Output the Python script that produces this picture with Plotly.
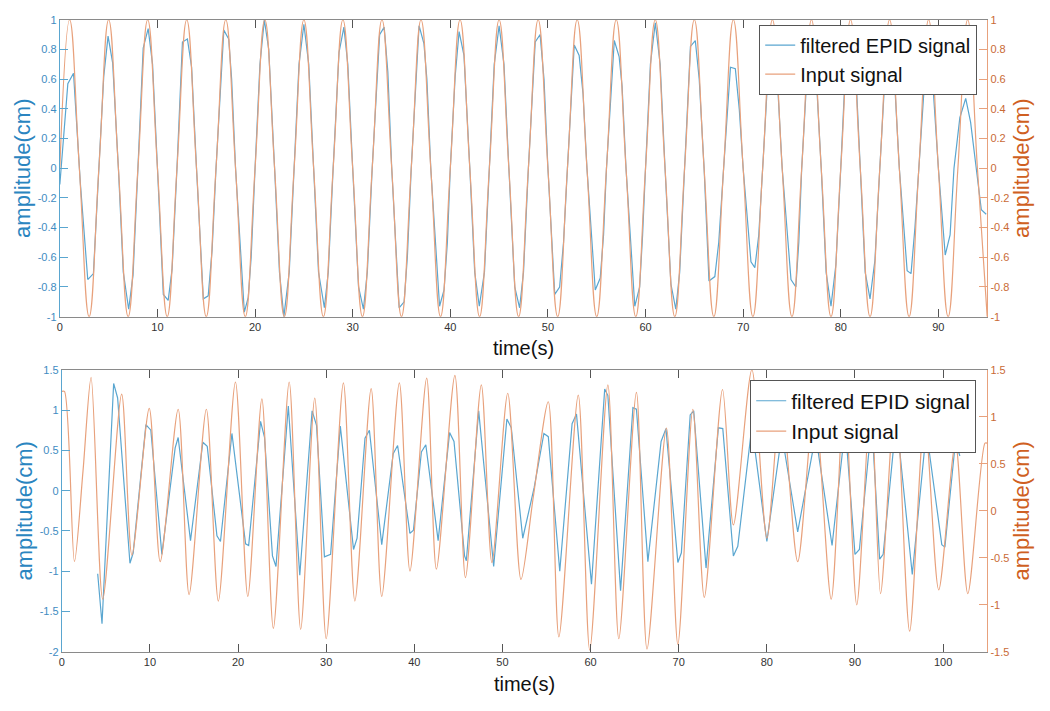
import plotly.graph_objects as go

# ---- top panel: sinusoidal input (period 4 s) and filtered EPID signal ----
top_input_t = [0, 1, 2, 3, 4, 5, 6, 7, 8, 9, 10, 11, 12, 13, 14, 15, 16, 17, 18, 19,
               20, 21, 22, 23, 24, 25, 26, 27, 28, 29, 30, 31, 32, 33, 34, 35, 36, 37, 38, 39,
               40, 41, 42, 43, 44, 45, 46, 47, 48, 49, 50, 51, 52, 53, 54, 55, 56, 57, 58, 59,
               60, 61, 62, 63, 64, 65, 66, 67, 68, 69, 70, 71, 72, 73, 74, 75, 76, 77, 78, 79,
               80, 81, 82, 83, 84, 85, 86, 87, 88, 89, 90, 91, 92, 93, 94, 95]
top_input = [0, 1, 0, -1, 0, 1, 0, -1, 0, 1, 0, -1, 0, 1, 0, -1, 0, 1, 0, -1,
             0, 1, 0, -1, 0, 1, 0, -1, 0, 1, 0, -1, 0, 1, 0, -1, 0, 1, 0, -1,
             0, 1, 0, -1, 0, 1, 0, -1, 0, 1, 0, -1, 0, 1, 0, -1, 0, 1, 0, -1,
             0, 1, 0, -1, 0, 1, 0, -1, 0, 1, 0, -1, 0, 1, 0, -1, 0, 1, 0, -1,
             0, 1, 0, -1, 0, 1, 0, -1, 0, 1, 0, -1, 0, 1, 0, -1]

top_epid_t = [0.0, 0.82, 1.4, 2.1, 2.86, 3.44, 4.0, 4.5, 4.94, 5.41, 6.0, 6.5, 7.05, 7.5,
              8.0, 8.54, 9.05, 9.5, 10.0, 10.6, 11.1, 11.5, 12.0, 12.56, 13.07, 13.5,
              14.0, 14.7, 15.2, 15.6, 16.0, 16.8, 17.3, 17.6, 18.0, 18.9, 19.3, 19.6,
              20.0, 20.5, 20.95, 21.4, 22.0, 22.5, 22.95, 23.5, 24.0, 24.5, 25.0, 25.5,
              26.0, 26.5, 27.1, 27.5, 28.0, 28.6, 29.1, 29.5, 30.0, 30.6, 31.1, 31.5,
              32.0, 32.76, 33.23, 33.6, 34.0, 34.76, 35.27, 35.6, 36.0, 36.8, 37.3, 37.6,
              38.0, 38.9, 39.36, 39.7, 40.0, 40.5, 40.9, 41.4, 42.0, 42.5, 42.97, 43.5,
              44.0, 44.5, 45.0, 45.5, 46.0, 46.6, 47.1, 47.5, 48.0, 48.7, 49.2, 49.6,
              50.0, 50.7, 51.2, 51.6, 52.0, 52.7, 53.2, 53.6, 54.0, 54.85, 55.36, 55.7,
              56.0, 56.8, 57.3, 57.6, 58.0, 58.9, 59.4, 59.7, 60.0, 60.5, 61.0, 61.5,
              62.0, 62.6, 63.1, 63.5, 64.0, 64.6, 65.1, 65.5, 66.0, 66.5, 67.1, 67.5,
              68.0, 68.7, 69.2, 69.6, 70.0, 70.8, 71.2, 71.6, 72.0, 72.6, 73.0, 73.5,
              74.0, 74.9, 75.4, 75.7, 76.0, 76.6, 77.0, 77.5, 78.0, 78.5, 79.0, 79.5,
              80.0, 80.5, 81.0, 81.5, 82.0, 82.5, 83.0, 83.5, 84.0, 84.6, 85.0, 85.5,
              86.0, 86.8, 87.2, 87.6, 88.0, 88.6, 89.0, 89.5, 90.0, 90.7, 91.2, 91.6,
              92.2, 92.8, 93.3, 94.4, 94.9]
top_epid = [-0.11, 0.57, 0.64, -0.1, -0.75, -0.71, 0.0, 0.62, 0.89, 0.71, 0.0, -0.7, -0.95, -0.72,
            0.0, 0.81, 0.94, 0.7, 0.0, -0.85, -0.89, -0.68, 0.0, 0.85, 0.87, 0.68,
            0.0, -0.88, -0.86, -0.55, 0.0, 0.93, 0.87, 0.6, 0.0, -0.97, -0.87, -0.6,
            0.0, 0.7, 1.0, 0.8, 0.0, -0.7, -1.0, -0.7, 0.0, 0.7, 0.97, 0.7,
            0.0, -0.7, -0.94, -0.7, 0.0, 0.78, 0.95, 0.7, 0.0, -0.8, -0.95, -0.7,
            0.0, 0.9, 0.95, 0.65, 0.0, -0.94, -0.9, -0.6, 0.0, 0.96, 0.84, 0.6,
            0.0, -0.93, -0.82, -0.5, 0.0, 0.62, 0.92, 0.76, 0.0, -0.7, -0.93, -0.7,
            0.0, 0.7, 0.96, 0.7, 0.0, -0.8, -0.94, -0.7, 0.0, 0.85, 0.9, 0.6,
            0.0, -0.85, -0.8, -0.5, 0.0, 0.83, 0.76, 0.5, 0.0, -0.82, -0.74, -0.45,
            0.0, 0.86, 0.75, 0.55, 0.0, -0.93, -0.8, -0.45, 0.0, 0.7, 0.98, 0.7,
            0.0, -0.78, -0.95, -0.7, 0.0, 0.82, 0.86, 0.6, 0.0, -0.76, -0.73, -0.5,
            0.0, 0.68, 0.67, 0.4, 0.0, -0.63, -0.67, -0.45, 0.0, 0.7, 0.78, 0.6,
            0.0, -0.75, -0.8, -0.5, 0.0, 0.7, 0.82, 0.6, 0.0, -0.7, -0.93, -0.65,
            0.0, 0.7, 0.93, 0.7, 0.0, -0.7, -0.88, -0.62, 0.0, 0.7, 0.8, 0.6,
            0.0, -0.69, -0.71, -0.4, 0.0, 0.6, 0.72, 0.5, 0.0, -0.585, -0.45, 0.0,
            0.34, 0.47, 0.31, -0.28, -0.31]

# ---- bottom panel: irregular breathing-like input and filtered EPID signal ----
bot_input_t = [0.0, 0.3, 1.43, 2.4, 3.32, 4.64, 6.79, 7.95, 9.92, 11.16, 13.2, 14.44,
               16.4, 17.76, 19.7, 21.1, 22.7, 24.0, 25.8, 27.1, 28.7, 30.0, 31.95, 33.25,
               35.1, 36.3, 38.3, 39.5, 41.4, 42.5, 44.6, 45.8, 47.6, 48.8, 50.6, 52.1,
               53.5, 55.2, 56.4, 58.6, 59.9, 61.96, 63.2, 65.2, 66.4, 68.6, 69.9, 71.6,
               72.9, 74.97, 76.2, 78.3, 80.0, 81.6, 83.5, 85.4, 87.3, 88.8, 90.2, 91.8,
               92.9, 94.6, 96.2, 97.9, 99.5, 101.4, 102.8, 104.75, 105.0]
bot_input = [1.27, 1.27, -0.54, 0.42, 1.42, -0.94, 1.24, -0.47, 1.09, -0.54, 1.08, -0.89,
             1.08, -0.96, 1.37, -0.91, 1.19, -1.25, 1.37, -1.26, 1.2, -1.36, 1.36, -0.96,
             1.3, -0.91, 1.36, -0.64, 1.41, -0.62, 1.44, -0.71, 1.34, -0.55, 1.25, -0.73,
             0.15, 1.16, -1.34, 1.23, -1.48, 1.34, -1.36, 1.26, -1.47, 0.88, -1.42, 1.08,
             -0.92, 1.29, -0.15, 1.5, -0.29, 1.2, -0.54, 1.15, -0.94, 1.25, -1.0, 1.2,
             -0.88, 1.25, -1.28, 1.0, -0.84, 0.72, -0.88, 0.72, 0.72]

bot_epid_t = [4.07, 4.56, 5.88, 6.33, 7.73, 8.1, 9.54, 10.1, 11.35, 12.86, 13.2, 14.6,
              16.0, 16.5, 17.6, 18.0, 19.3, 20.85, 21.2, 22.55, 23.0, 23.9, 24.3, 25.7,
              27.0, 28.4, 28.9, 29.8, 30.5, 31.6, 33.1, 33.5, 34.4, 34.9, 36.3, 37.6,
              38.1, 39.5, 39.9, 40.8, 41.3, 42.7, 44.0, 44.5, 45.7, 45.9, 47.3, 49.0,
              50.5, 51.0, 52.3, 53.6, 54.7, 55.2, 56.5, 57.9, 58.4, 60.1, 61.6, 61.96,
              63.4, 64.8, 65.2, 66.5, 68.0, 68.55, 69.9, 70.3, 71.3, 71.7, 73.1, 74.5,
              75.0, 76.2, 76.7, 78.3, 80.0, 81.7, 83.5, 85.3, 85.8, 87.4, 88.9, 90.0,
              90.5, 91.9, 92.8, 93.2, 94.7, 96.5, 98.1, 99.85, 100.2, 101.4, 101.9]
bot_epid = [-1.03, -1.65, 1.33, 1.15, -0.9, -0.77, 0.82, 0.75, -0.79, 0.53, 0.66, -0.62,
            0.6, 0.55, -0.56, -0.63, 0.71, -0.66, -0.68, 0.86, 0.66, -0.81, -0.94, 1.05,
            -1.05, 0.99, 0.81, -0.82, -0.79, 0.8, -0.73, -0.59, 0.65, 0.75, -0.67, 0.46,
            0.56, -0.53, -0.49, 0.48, 0.57, -0.62, 0.72, 0.61, -0.81, -0.87, 0.99, -0.94,
            0.89, 0.78, -0.59, 0.04, 0.71, 0.67, -1.0, 0.83, 0.95, -1.16, 1.26, 1.18,
            -1.24, 1.03, 1.01, -0.88, 0.61, 0.77, -0.89, -0.77, 0.94, 0.99, -0.96, 0.78,
            0.77, -0.81, -0.69, 0.8, -0.63, 0.7, -0.51, 0.55, 0.5, -0.68, 0.8, -0.79,
            -0.73, 0.85, -0.85, -0.79, 0.9, -1.04, 0.75, -0.67, -0.7, 0.61, 0.43]

# tick labels (MATLAB style, plain hyphen minus)
top_yticks = [-1, -0.8, -0.6, -0.4, -0.2, 0, 0.2, 0.4, 0.6, 0.8, 1]
top_ylabels = ["-1", "-0.8", "-0.6", "-0.4", "-0.2", "0", "0.2", "0.4", "0.6", "0.8", "1"]
bot_left_ticks = [-2, -1.5, -1, -0.5, 0, 0.5, 1, 1.5]
bot_left_labels = ["-2", "-1.5", "-1", "-0.5", "0", "0.5", "1", "1.5"]
bot_right_ticks = [-1.5, -1, -0.5, 0, 0.5, 1, 1.5]
bot_right_labels = ["-1.5", "-1", "-0.5", "0", "0.5", "1", "1.5"]

W, H = 1050, 711
FONT = "Liberation Sans, Arial, Helvetica, sans-serif"
BLUE_LINE = "#5aa6d0"
ORANGE_LINE = "#e8a17c"
BLUE_TXT = "#2a85c0"
ORANGE_TXT = "#cf5f22"
BLUE_TICK = "#3f8cc2"
ORANGE_TICK = "#c96a36"
GRAY = "#8a8a8a"

fig = go.Figure()

fig.add_trace(go.Scatter(x=top_epid_t, y=top_epid, mode="lines", name="filtered EPID signal",
                         line=dict(color=BLUE_LINE, width=1.2), xaxis="x", yaxis="y",
                         legend="legend"))
fig.add_trace(go.Scatter(x=top_input_t, y=top_input, mode="lines", name="Input signal",
                         line=dict(color=ORANGE_LINE, width=1.2, shape="spline", smoothing=1.3),
                         xaxis="x", yaxis="y2", legend="legend"))
fig.add_trace(go.Scatter(x=bot_epid_t, y=bot_epid, mode="lines", name="filtered EPID signal",
                         line=dict(color=BLUE_LINE, width=1.2), xaxis="x2", yaxis="y3",
                         legend="legend2"))
fig.add_trace(go.Scatter(x=bot_input_t, y=bot_input, mode="lines", name="Input signal",
                         line=dict(color=ORANGE_LINE, width=1.2, shape="spline", smoothing=0.8),
                         xaxis="x2", yaxis="y4", legend="legend2"))


def xax(dom, anchor, rng):
    return dict(domain=dom, anchor=anchor, range=rng, tick0=0, dtick=10,
                ticks="inside", ticklen=8, tickcolor="#555555", showline=True,
                linecolor=GRAY, linewidth=1, mirror="ticks", showgrid=False, zeroline=False,
                tickfont=dict(family=FONT, size=11, color="#333333"),
                title=dict(text="time(s)", font=dict(family=FONT, size=20, color="#111111"),
                           standoff=9))


def yax(dom, anchor, rng, vals, labels, color, tickc, txtc, side="left", overlay=None):
    d = dict(anchor=anchor, range=rng, tickvals=vals, ticktext=labels, side=side,
             ticks="inside", ticklen=8, tickcolor=color, showline=True, linecolor=color,
             linewidth=1, showgrid=False, zeroline=False,
             tickfont=dict(family=FONT, size=11, color=tickc),
             title=dict(text="amplitude(cm)", font=dict(family=FONT, size=22, color=txtc),
                        standoff=0))
    if overlay:
        d["overlaying"] = overlay
    else:
        d["domain"] = dom
    return d


top_dom = [(H - 316) / H, (H - 14) / H]
bot_dom = [(H - 657) / H, (H - 370) / H]

fig.update_layout(
    width=W, height=H,
    margin=dict(l=0, r=0, t=0, b=0),
    paper_bgcolor="white", plot_bgcolor="white",
    font=dict(family=FONT),
    xaxis=xax([57 / W, 987 / W], "y", [0, 95]),
    xaxis2=xax([59 / W, 987 / W], "y3", [0, 105]),
    yaxis=yax(top_dom, "x", [-1, 1], top_yticks, top_ylabels, BLUE_LINE, BLUE_TICK, BLUE_TXT),
    yaxis2=yax(None, "x", [-1, 1], top_yticks, top_ylabels, ORANGE_LINE, ORANGE_TICK,
               ORANGE_TXT, side="right", overlay="y"),
    yaxis3=yax(bot_dom, "x2", [-2, 1.5], bot_left_ticks, bot_left_labels, BLUE_LINE,
               BLUE_TICK, BLUE_TXT),
    yaxis4=yax(None, "x2", [-1.5, 1.5], bot_right_ticks, bot_right_labels, ORANGE_LINE,
               ORANGE_TICK, ORANGE_TXT, side="right", overlay="y3"),
    legend=dict(x=977 / W, y=(H - 19) / H, xanchor="right", yanchor="top",
                bgcolor="white", bordercolor="#555555", borderwidth=1,
                font=dict(family=FONT, size=20, color="#111111"), tracegroupgap=0),
    legend2=dict(x=976 / W, y=(H - 380) / H, xanchor="right", yanchor="top",
                 bgcolor="white", bordercolor="#555555", borderwidth=1,
                 font=dict(family=FONT, size=21, color="#111111"), tracegroupgap=0),
    showlegend=True,
)

# page body has a default 8px margin; drop it so the figure sits at the window origin
fig.write_html("out.html", config={"displayModeBar": False},
               post_script="document.body.style.margin='0';")
